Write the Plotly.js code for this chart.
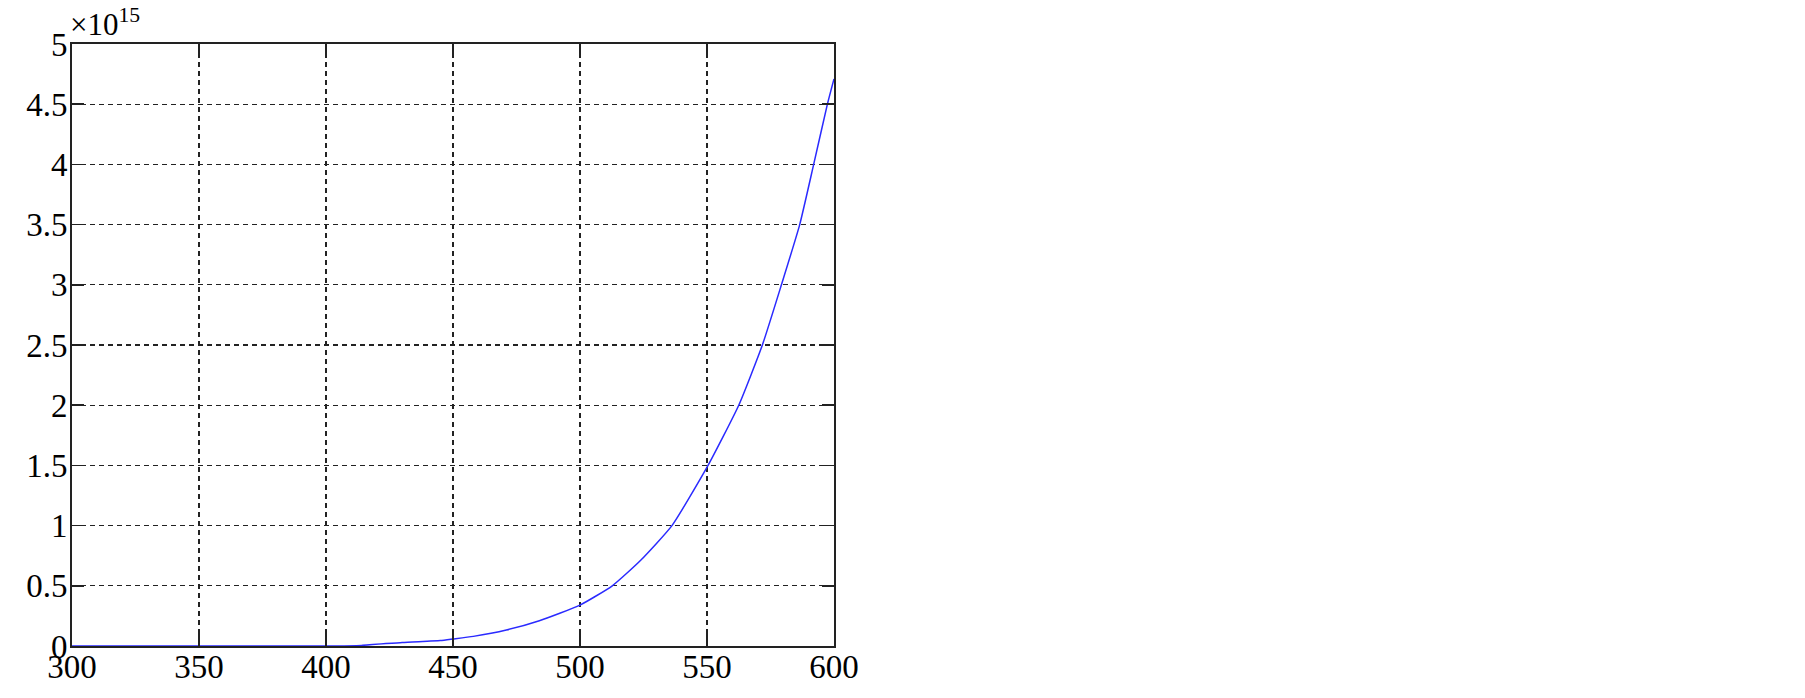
<!DOCTYPE html>
<html>
<head>
<meta charset="utf-8">
<script src="https://cdn.plot.ly/plotly-3.0.1.min.js"></script>
<style>html,body{margin:0;padding:0;background:#fff;}#chart{width:1805px;height:698px;}</style>
</head>
<body>
<div id="chart"></div>
<script>
// x values and y values (in units of 10^15)
const xValues = [300, 350, 400, 414, 430, 445, 450, 458, 471, 484, 500, 512.7, 523.8, 536.2, 550.4, 562.5, 571.8, 579.3, 586.5, 592, 597.4, 600];
const yValues = [0, 0, 0, 0.005, 0.03, 0.045, 0.058, 0.08, 0.133, 0.21, 0.34, 0.5, 0.71, 1.0, 1.5, 2.0, 2.5, 3.0, 3.5, 4.0, 4.5, 4.71];
const xTicks = [300, 350, 400, 450, 500, 550, 600];
const yTicks = [0, 0.5, 1, 1.5, 2, 2.5, 3, 3.5, 4, 4.5, 5];
const yTickLabels = ["0", "0.5", "1", "1.5", "2", "2.5", "3", "3.5", "4", "4.5", "5"];
const exponentLabel = "×10<sup>15</sup>";

const fontFamily = "Liberation Serif, Times New Roman, serif";

const trace = {
  x: xValues,
  y: yValues,
  type: 'scatter',
  mode: 'lines',
  line: {color: '#2a2aff', width: 1.5, shape: 'spline', smoothing: 0.5},
  hoverinfo: 'none'
};

const axisCommon = {
  showline: true,
  linecolor: '#222',
  linewidth: 2,
  mirror: 'ticks',
  ticks: 'inside',
  ticklen: 12,
  tickwidth: 1.5,
  tickcolor: '#222',
  showgrid: true,
  gridcolor: '#222',
  gridwidth: 1.3,
  griddash: '5px,4px',
  zeroline: false,
  tickfont: {family: fontFamily, size: 33, color: '#000'}
};

const layout = {
  width: 1805,
  height: 698,
  margin: {l: 72, r: 971, t: 44, b: 52, pad: 0},
  paper_bgcolor: '#fff',
  plot_bgcolor: '#fff',
  showlegend: false,
  xaxis: Object.assign({}, axisCommon, {
    range: [300, 600],
    tickmode: 'array',
    tickvals: xTicks,
    ticktext: xTicks.map(String),
    ticklabelstandoff: -10
  }),
  yaxis: Object.assign({}, axisCommon, {
    range: [0, 5],
    tickmode: 'array',
    tickvals: yTicks,
    ticktext: yTickLabels,
    ticklabelstandoff: -4
  }),
  annotations: [{
    xref: 'paper', yref: 'paper',
    x: 0, y: 1,
    xanchor: 'left', yanchor: 'bottom',
    xshift: -4, yshift: 0,
    showarrow: false,
    text: exponentLabel,
    font: {family: fontFamily, size: 31, color: '#000'}
  }]
};

Plotly.newPlot('chart', [trace], layout, {staticPlot: true, displayModeBar: false});
</script>
</body>
</html>
